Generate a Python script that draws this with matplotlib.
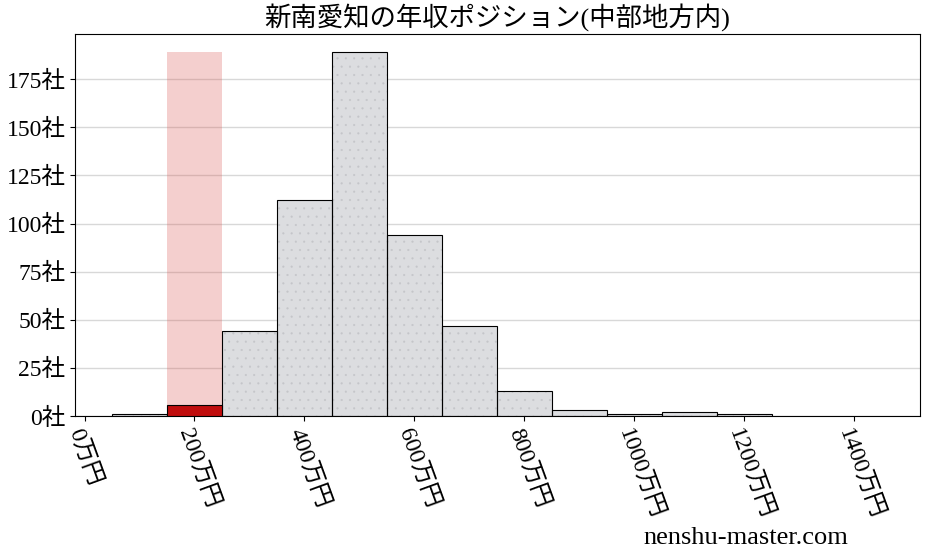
import matplotlib
matplotlib.use("Agg")
import matplotlib.pyplot as plt

plt.rcParams['font.family'] = ['Liberation Serif', 'Noto Sans CJK JP', 'DejaVu Sans']
plt.rcParams['hatch.linewidth'] = 0.3

# 年収の階級 (万円) と企業数
bin_centers = [100, 200, 300, 400, 500, 600, 700, 800, 900, 1000, 1100, 1200]
counts = [1, 6, 44, 112, 189, 94, 47, 13, 3, 1, 2, 1]
highlight_center = 200
highlight_count = 6
xticks = [0, 200, 400, 600, 800, 1000, 1200, 1400]
yticks = [0, 25, 50, 75, 100, 125, 150, 175]

fig = plt.figure(figsize=(9.28, 5.57), dpi=100)
ax = fig.add_axes([0.081, 0.253, 0.91, 0.686])

# 背景の全体分布
others = [(c, n) for c, n in zip(bin_centers, counts) if c != highlight_center]
ox = [c for c, n in others]
oy = [n for c, n in others]
ax.bar(ox, oy, width=100, color='#dcdde0', edgecolor='#c4c5c9',
       linewidth=0, hatch='..', zorder=2)
ax.bar(ox, oy, width=100, fill=False, edgecolor='black', linewidth=0.8, zorder=2.5)

# 該当階級の強調
ax.bar(highlight_center, max(counts), width=100, color='#d9534f', alpha=0.28,
       linewidth=0, zorder=1)
ax.bar(highlight_center, highlight_count, width=100, color='#c00d0d',
       edgecolor='black', linewidth=0.8, zorder=3)

ax.set_xlim(-17, 1519)
ax.set_ylim(0, max(counts) * 1.05)
ax.set_xticks(xticks)
ax.set_xticklabels([f'{v}万円' for v in xticks], rotation=-70, ha='left',
                   rotation_mode='anchor', fontsize=17)
ax.set_yticks(yticks)
ax.set_yticklabels([f'{v}社' for v in yticks], fontsize=17)
ax.yaxis.grid(True, color='#d8d8d8', linewidth=1, zorder=0)
ax.set_axisbelow(True)
ax.set_title('新南愛知の年収ポジション(中部地方内)', fontsize=19, pad=6)

fig.text(0.914, 0.015, 'nenshu-master.com', ha='right', va='bottom', fontsize=19)

fig.savefig('out.png', dpi=100)
